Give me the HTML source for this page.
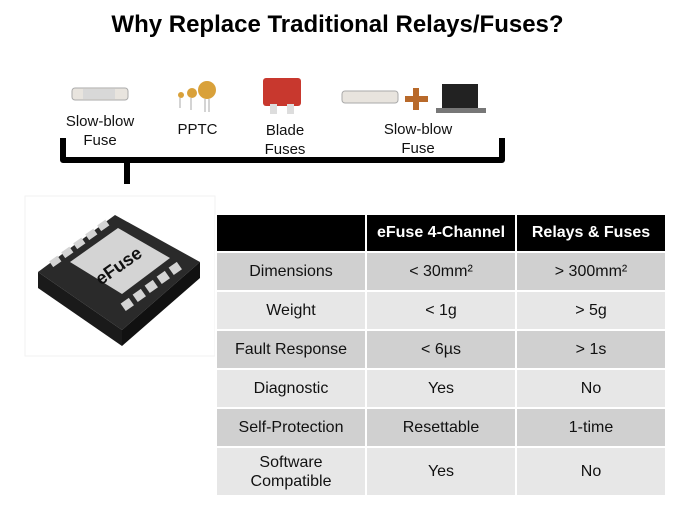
<!DOCTYPE html>
<html><head><style>
body{margin:0;width:675px;height:506px;background:#fff;font-family:"Liberation Sans",sans-serif;position:relative;overflow:hidden}
.t{position:absolute;text-align:center;color:#111}
table{position:absolute;left:215px;top:215px;border-collapse:collapse;font-size:16px;color:#111}
td{text-align:center;border:2px solid #fff;padding:0}
tr.h td{background:#000;color:#fff;font-weight:bold;height:36px;border-top:0}
.d td{background:#d0d0d0}
.l td{background:#e7e7e7}
</style></head><body>
<div class="t" style="left:0;width:675px;top:11px;font-size:24px;font-weight:bold;color:#000">Why Replace Traditional Relays/Fuses?</div>
<svg width="675" height="506" style="position:absolute;left:0;top:0">
<path d="M63,138 V160 H502 V138 M127,160 V184" fill="none" stroke="#000" stroke-width="6" stroke-linejoin="round"/>
<rect x="72" y="88" width="56" height="12" rx="3" fill="#e8e4de" stroke="#aaa"/>
<rect x="83" y="89" width="32" height="10" fill="#d8d8d8"/>
<circle cx="181" cy="95" r="3" fill="#d9a13a"/><circle cx="192" cy="93" r="5" fill="#d9a13a"/><circle cx="207" cy="90" r="9" fill="#d9a13a"/>
<path d="M180,98V108M191,98V110M205,99V112M209,99V112" stroke="#aaa"/>
<rect x="263" y="78" width="38" height="28" rx="3" fill="#c8382e"/>
<rect x="270" y="104" width="7" height="10" fill="#ddd"/><rect x="287" y="104" width="7" height="10" fill="#ddd"/>
<rect x="342" y="91" width="56" height="12" rx="3" fill="#e8e4de" stroke="#aaa"/>
<path d="M416,88V110M405,99H428" stroke="#b8692a" stroke-width="6"/>
<rect x="442" y="84" width="36" height="28" fill="#222"/>
<rect x="436" y="108" width="50" height="5" fill="#777"/>
<rect x="25" y="196" width="190" height="160" fill="#fff" stroke="#f2f2f2"/>
<polygon points="38,272 115,215 200,262 122,330" fill="#2a2a2a"/>
<polygon points="38,272 122,330 122,346 38,288" fill="#1a1a1a"/>
<polygon points="122,330 200,262 200,278 122,346" fill="#111"/>
<polygon points="70,262 118,228 170,258 122,294" fill="#d4d4d4"/>
<text x="118" y="272" font-family="Liberation Sans" font-weight="bold" font-size="18" fill="#111" transform="rotate(-35 118 265)" text-anchor="middle">eFuse</text>
<g fill="#d4d4d4">
<rect x="50" y="258" width="10" height="7" transform="rotate(-35 55 261)"/><rect x="62" y="249" width="10" height="7" transform="rotate(-35 67 252)"/><rect x="74" y="240" width="10" height="7" transform="rotate(-35 79 243)"/><rect x="86" y="231" width="10" height="7" transform="rotate(-35 91 234)"/><rect x="98" y="222" width="10" height="7" transform="rotate(-35 103 225)"/>
<rect x="122" y="300" width="10" height="9" transform="rotate(-35 127 304)"/><rect x="134" y="291" width="10" height="9" transform="rotate(-35 139 295)"/><rect x="146" y="282" width="10" height="9" transform="rotate(-35 151 286)"/><rect x="158" y="273" width="10" height="9" transform="rotate(-35 163 277)"/><rect x="170" y="264" width="10" height="9" transform="rotate(-35 175 268)"/>
</g>
</svg>
<div class="t" style="left:45px;width:110px;top:112px;font-size:15px;line-height:19px">Slow-blow<br>Fuse</div>
<div class="t" style="left:160px;width:75px;top:121px;font-size:15px">PPTC</div>
<div class="t" style="left:245px;width:80px;top:121px;font-size:15px;line-height:19px">Blade<br>Fuses</div>
<div class="t" style="left:363px;width:110px;top:120px;font-size:15px;line-height:19px">Slow-blow<br>Fuse</div>
<table>
<tr class="h"><td style="width:148px"></td><td style="width:148px">eFuse 4-Channel</td><td style="width:148px">Relays &amp; Fuses</td></tr>
<tr class="d"><td style="height:37px">Dimensions</td><td>&lt; 30mm²</td><td>&gt; 300mm²</td></tr>
<tr class="l"><td style="height:37px">Weight</td><td>&lt; 1g</td><td>&gt; 5g</td></tr>
<tr class="d"><td style="height:37px">Fault Response</td><td>&lt; 6µs</td><td>&gt; 1s</td></tr>
<tr class="l"><td style="height:37px">Diagnostic</td><td>Yes</td><td>No</td></tr>
<tr class="d"><td style="height:37px">Self-Protection</td><td>Resettable</td><td>1-time</td></tr>
<tr class="l"><td style="height:47px;line-height:19px">Software<br>Compatible</td><td>Yes</td><td>No</td></tr>
</table>
</body></html>
